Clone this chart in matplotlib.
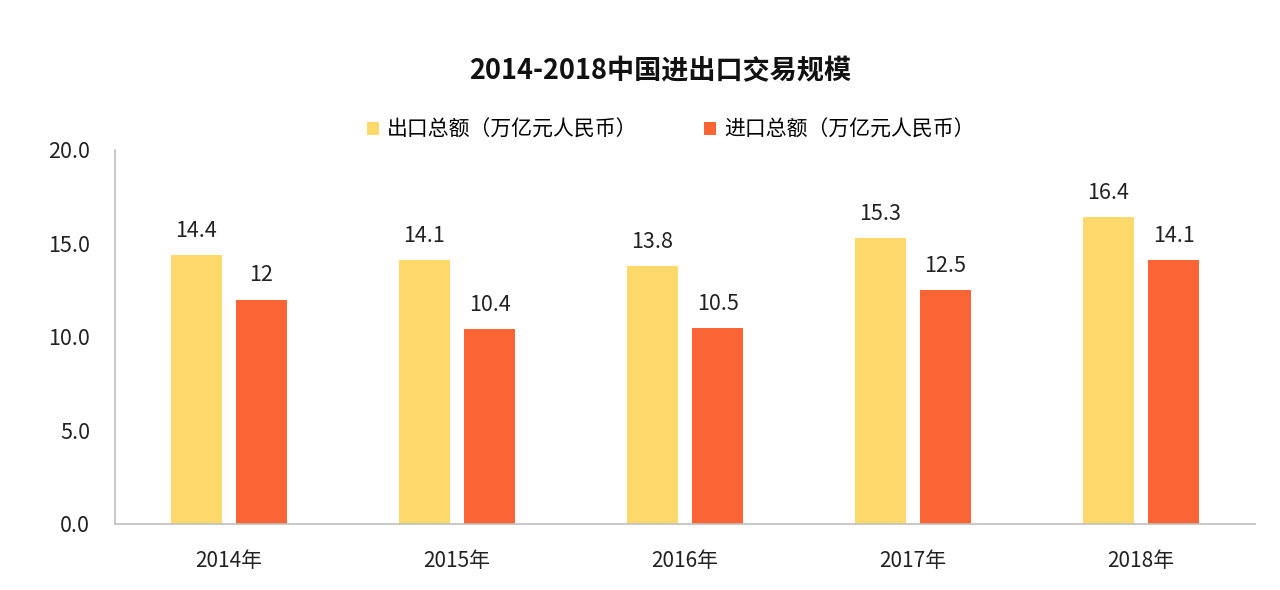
import matplotlib.pyplot as plt
import numpy as np

plt.rcParams['font.family'] = ['Noto Sans CJK SC', 'DejaVu Sans']

years = ['2014年', '2015年', '2016年', '2017年', '2018年']
exports = [14.4, 14.1, 13.8, 15.3, 16.4]
imports = [12, 10.4, 10.5, 12.5, 14.1]
export_labels = ['14.4', '14.1', '13.8', '15.3', '16.4']
import_labels = ['12', '10.4', '10.5', '12.5', '14.1']

fig = plt.figure(figsize=(12.8, 5.9), dpi=100)
ax = fig.add_axes([0.0898, 0.1119, 0.8907, 0.6339])

x = np.arange(len(years))
w = 0.224
off = 0.143
b1 = ax.bar(x - off, exports, w, color='#FDD86A', label='出口总额（万亿元人民币）')
b2 = ax.bar(x + off, imports, w, color='#FB6535', label='进口总额（万亿元人民币）')

for rect, lab in zip(b1, export_labels):
    ax.text(rect.get_x() + rect.get_width() / 2, rect.get_height() + 0.7, lab,
            ha='center', va='bottom', fontsize=15.5, color='#222222')
for rect, lab in zip(b2, import_labels):
    ax.text(rect.get_x() + rect.get_width() / 2, rect.get_height() + 0.7, lab,
            ha='center', va='bottom', fontsize=15.5, color='#222222')

ax.set_xlim(-0.5, 4.5)
ax.set_ylim(0, 20)
ax.set_yticks([0, 5, 10, 15, 20])
ax.set_yticklabels(['0.0', '5.0', '10.0', '15.0', '20.0'], fontsize=15.5, color='#222222')
ax.set_xticks(x)
ax.set_xticklabels(years, fontsize=15, color='#222222')
ax.tick_params(axis='y', length=0, pad=18)
ax.tick_params(axis='x', length=0, pad=19)

for s in ['top', 'right']:
    ax.spines[s].set_visible(False)
for s in ['left', 'bottom']:
    ax.spines[s].set_color('#BFBFBF')
    ax.spines[s].set_linewidth(1.2)

fig.text(0.516, 0.88, '2014-2018中国进出口交易规模', ha='center', va='center',
         fontsize=19.5, fontweight='bold', color='#111111')

fig.legend(loc='center', bbox_to_anchor=(0.524, 0.78), ncol=2, frameon=False,
           fontsize=15, handlelength=0.55, handleheight=0.55, handletextpad=0.4,
           columnspacing=3.2)

fig.savefig('out.png', dpi=100)
